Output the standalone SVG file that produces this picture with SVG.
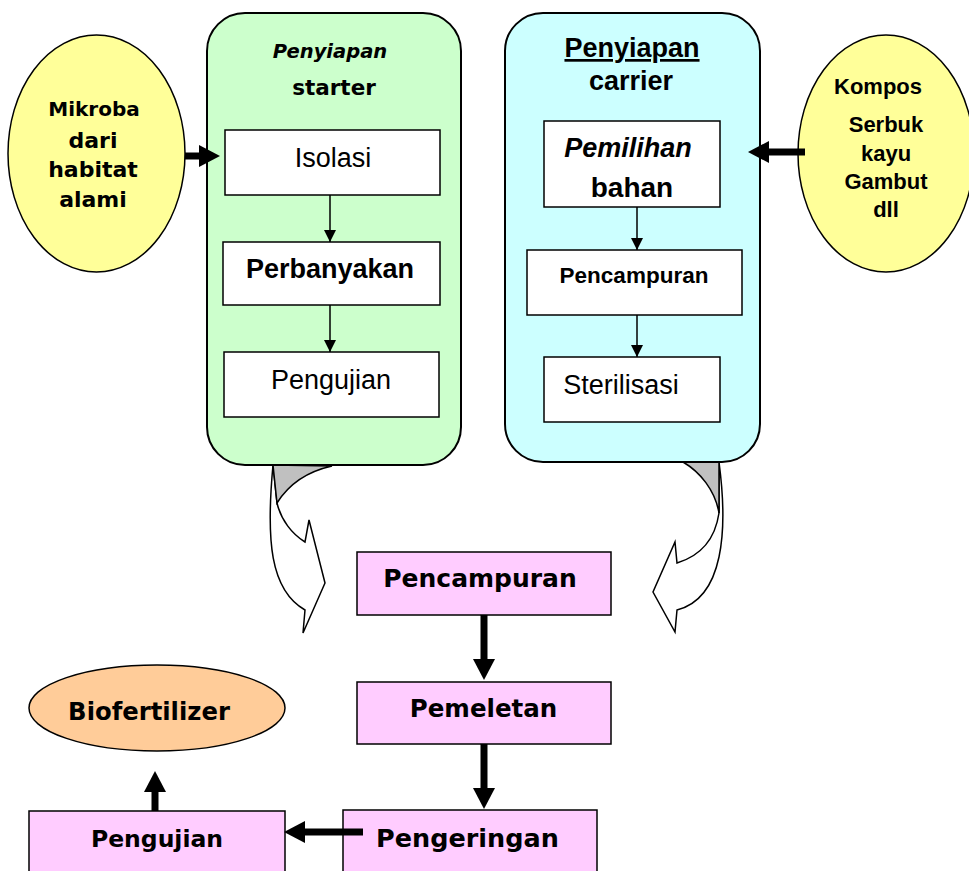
<svg xmlns="http://www.w3.org/2000/svg" width="969" height="871" viewBox="0 0 969 871">
  <style>
    .panel { stroke: #000; stroke-width: 2; }
    .box { fill: #fff; stroke: #000; stroke-width: 1.5; }
    .pink { fill: #FFCCFF; stroke: #000; stroke-width: 1.5; }
    .oval { stroke: #000; stroke-width: 1.5; }
    .thin { stroke: #000; stroke-width: 1.5; fill: none; }
    .thick { stroke: #000; stroke-width: 7; fill: none; }
    .bend { fill: #fff; stroke: #000; stroke-width: 1.5; stroke-linejoin: miter; }
    .shade { fill: #C0C0C0; stroke: #000; stroke-width: 1.5; }
    .arial { font-family: "Liberation Sans", Arial, sans-serif; fill: #000; text-anchor: middle; }
    .verd { font-family: "DejaVu Sans", Verdana, sans-serif; font-weight: bold; fill: #000; text-anchor: middle; }
  </style>
  <defs>
    <marker id="headThin" markerUnits="userSpaceOnUse" markerWidth="12" markerHeight="12" refX="12" refY="6" orient="auto">
      <path d="M0,0 L12,6 L0,12 Z" fill="#000"/>
    </marker>
    <marker id="headThick" markerUnits="userSpaceOnUse" markerWidth="21" markerHeight="22" refX="1" refY="11" orient="auto">
      <path d="M0,0 L21,11 L0,22 Z" fill="#000"/>
    </marker>
  </defs>

  <!-- curved transfer arrows from the two preparation panels -->
  <g id="bend-starter">
    <path class="bend" d="M273,465 C266,540 270,590 305,610 L303,633 L325,583 L309,520 L305,542 C292,534 281,520 277,503 Z"/>
    <path class="shade" d="M273,465 L332,466 C305,472 287,487 277,503 Z"/>
  </g>
  <g id="bend-carrier">
    <path class="bend" d="M719,462 C728,530 724,598 677,610 L675,632 L653,592 L675,542 L677,563 C700,556 715,540 719,513 Z"/>
    <path class="shade" d="M683,462 L719,462 L719,513 C715,490 700,472 683,462 Z"/>
  </g>

  <!-- starter preparation panel -->
  <g id="panel-starter">
    <rect class="panel" x="207" y="13" width="254" height="452" rx="38" fill="#CCFFCC"/>
    <text class="verd" x="330" y="58" font-size="19.5" font-style="italic">Penyiapan</text>
    <text class="verd" x="334" y="95" font-size="21.5">starter</text>
  </g>
  <g id="isolasi">
    <rect class="box" x="225" y="130" width="215" height="65"/>
    <text class="arial" x="333" y="167" font-size="27">Isolasi</text>
  </g>
  <g id="perbanyakan">
    <rect class="box" x="223" y="242" width="217" height="63"/>
    <text class="arial" x="330" y="278" font-size="27" font-weight="bold">Perbanyakan</text>
  </g>
  <g id="pengujian-starter">
    <rect class="box" x="224" y="352" width="215" height="65"/>
    <text class="arial" x="331" y="389" font-size="27">Pengujian</text>
  </g>

  <!-- carrier preparation panel -->
  <g id="panel-carrier">
    <rect class="panel" x="505" y="13" width="255" height="449" rx="38" fill="#CCFFFF"/>
    <text class="arial" x="632" y="57" font-size="27" font-weight="bold" text-decoration="underline">Penyiapan</text>
    <text class="arial" x="631" y="90" font-size="27" font-weight="bold">carrier</text>
  </g>
  <g id="pemilihan">
    <rect class="box" x="544" y="121" width="176" height="86"/>
    <text class="arial" x="628" y="157" font-size="27" font-weight="bold" font-style="italic">Pemilihan</text>
    <text class="arial" x="632" y="197" font-size="28" font-weight="bold">bahan</text>
  </g>
  <g id="pencampuran-carrier">
    <rect class="box" x="527" y="250" width="215" height="65"/>
    <text class="arial" x="634" y="283" font-size="22.5" font-weight="bold">Pencampuran</text>
  </g>
  <g id="sterilisasi">
    <rect class="box" x="544" y="357" width="176" height="65"/>
    <text class="arial" x="621" y="394" font-size="27">Sterilisasi</text>
  </g>

  <!-- raw material sources -->
  <g id="mikroba">
    <ellipse class="oval" cx="96.5" cy="153.5" rx="88.5" ry="118.5" fill="#FFFF99"/>
    <text class="verd" x="94" y="116" font-size="20">Mikroba</text>
    <text class="verd" x="93" y="148" font-size="22">dari</text>
    <text class="verd" x="93" y="177" font-size="22">habitat</text>
    <text class="verd" x="93" y="207" font-size="22">alami</text>
  </g>
  <g id="kompos">
    <ellipse class="oval" cx="886" cy="153.5" rx="88" ry="118.5" fill="#FFFF99"/>
    <text class="arial" x="878" y="94" font-size="22" font-weight="bold">Kompos</text>
    <text class="arial" x="886" y="132" font-size="22" font-weight="bold">Serbuk</text>
    <text class="arial" x="886" y="161" font-size="22" font-weight="bold">kayu</text>
    <text class="arial" x="886" y="189" font-size="22" font-weight="bold">Gambut</text>
    <text class="arial" x="886" y="217" font-size="22" font-weight="bold">dll</text>
  </g>

  <!-- main processing line -->
  <g id="pencampuran">
    <rect class="pink" x="357" y="552" width="254" height="63"/>
    <text class="verd" x="480" y="587" font-size="25">Pencampuran</text>
  </g>
  <g id="pemeletan">
    <rect class="pink" x="357" y="682" width="254" height="62"/>
    <text class="verd" x="483.5" y="717" font-size="24.5">Pemeletan</text>
  </g>
  <g id="pengeringan">
    <rect class="pink" x="343" y="810" width="254" height="70"/>
    <text class="verd" x="467.5" y="847" font-size="25.5">Pengeringan</text>
  </g>
  <g id="pengujian">
    <rect class="pink" x="29" y="811" width="256" height="70"/>
    <text class="verd" x="157" y="847" font-size="23.5">Pengujian</text>
  </g>
  <g id="biofertilizer">
    <ellipse class="oval" cx="157" cy="708" rx="128" ry="43" fill="#FFCC99"/>
    <text class="verd" x="149" y="720" font-size="24.3">Biofertilizer</text>
  </g>

  <!-- connectors -->
  <g id="connectors">
    <line class="thin" x1="330" y1="195" x2="330" y2="242" marker-end="url(#headThin)"/>
    <line class="thin" x1="330" y1="305" x2="330" y2="352" marker-end="url(#headThin)"/>
    <line class="thin" x1="637" y1="207" x2="637" y2="250" marker-end="url(#headThin)"/>
    <line class="thin" x1="637" y1="315" x2="637" y2="357" marker-end="url(#headThin)"/>
    <line class="thick" x1="185" y1="156" x2="200" y2="156" marker-end="url(#headThick)"/>
    <line class="thick" x1="805" y1="152" x2="768" y2="152" marker-end="url(#headThick)"/>
    <line class="thick" x1="484" y1="615" x2="484" y2="660" marker-end="url(#headThick)"/>
    <line class="thick" x1="484" y1="744" x2="484" y2="789" marker-end="url(#headThick)"/>
    <line class="thick" x1="363" y1="832" x2="304" y2="832" marker-end="url(#headThick)"/>
    <line class="thick" x1="155" y1="811" x2="155" y2="791" marker-end="url(#headThick)"/>
  </g>
</svg>
